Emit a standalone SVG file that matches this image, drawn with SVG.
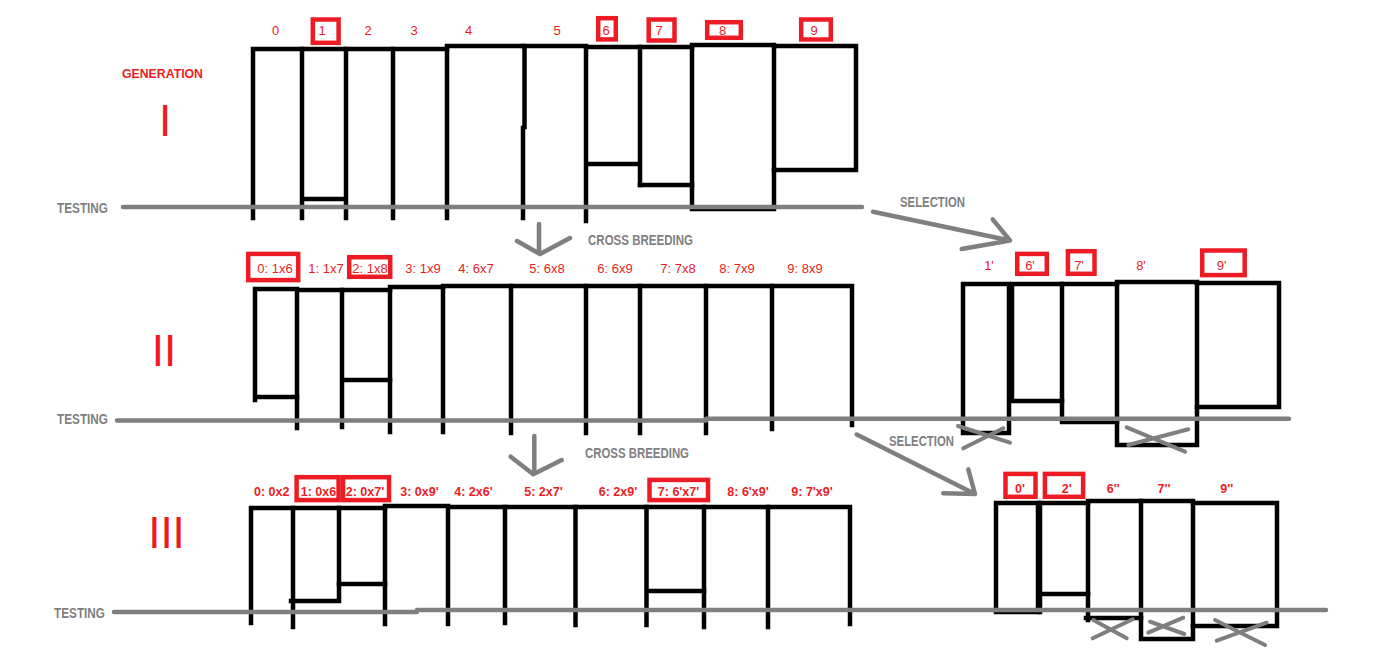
<svg xmlns="http://www.w3.org/2000/svg" width="1374" height="656" viewBox="0 0 1374 656">
<style>
.b{stroke:#000;stroke-width:4.5;fill:none;stroke-linecap:square;stroke-linejoin:miter}
.g{stroke:#7f7f7f;stroke-width:4.5;fill:none;stroke-linecap:round;stroke-linejoin:round}
.x{stroke:#7f7f7f;stroke-width:4;fill:none;stroke-linecap:round}
.rb{stroke:#ed1c24;stroke-width:4.5;fill:none}
.t{font-family:'Liberation Sans',Arial,sans-serif;font-size:13px;fill:#ed1c24;text-anchor:middle}
.tb{font-family:'Liberation Sans',Arial,sans-serif;font-size:12.5px;font-weight:bold;fill:#ed1c24;text-anchor:middle}
.gt{font-family:'Liberation Sans',Arial,sans-serif;font-size:14px;font-weight:bold;fill:#7f7f7f}
.rn{font-family:'Liberation Sans',Arial,sans-serif;font-size:44px;fill:#ed1c24;text-anchor:middle}
</style>
<rect width="1374" height="656" fill="#fff"/>

<!-- Generation labels -->
<g id="generation-label"><text class="gt" x="122" y="78" textLength="81" lengthAdjust="spacingAndGlyphs" style="fill:#ed1c24;font-size:13px">GENERATION</text></g>
<g id="gen-I"><text class="rn" x="165" y="136">I</text></g>
<g id="gen-II"><text class="rn" x="164" y="366">II</text></g>
<g id="gen-III"><text class="rn" x="166.5" y="548">III</text></g>

<!-- Generation I bars -->
<g id="g1-bar0"><path class="b" d="M253 49V218M253 49H302"/><text class="t" x="275.5" y="35.3">0</text></g>
<g id="g1-bar1"><path class="b" d="M302 49V218M346 49V218M302 199H346M302 49H346"/><rect class="rb" x="312.8" y="19.5" width="25.8" height="23.3"/><text class="t" x="322" y="35.3">1</text></g>
<g id="g1-bar2"><path class="b" d="M346 49H393"/><text class="t" x="368" y="35.3">2</text></g>
<g id="g1-bar3"><path class="b" d="M393 49V218M393 49H447"/><text class="t" x="414" y="35.3">3</text></g>
<g id="g1-bar4"><path class="b" d="M447 46V218M447 46H523"/><text class="t" x="468.6" y="35.3">4</text></g>
<g id="g1-bar5"><path class="b" d="M524.5 46V127M523 128V218M523 46H586"/><text class="t" x="557" y="35.3">5</text></g>
<g id="g1-bar6"><path class="b" d="M586 47V221M586 47H640M640 47V185M586 164H640"/><rect class="rb" x="598.2" y="18.2" width="17.6" height="21.2"/><text class="t" x="606" y="35.3">6</text></g>
<g id="g1-bar7"><path class="b" d="M640 47H692M640 185H692"/><rect class="rb" x="648.7" y="19.5" width="25.8" height="21"/><text class="t" x="659" y="35.3">7</text></g>
<g id="g1-bar8"><path class="b" d="M692 45V209M692 45H774M774 45V209M692 209H774"/><rect class="rb" x="707.2" y="22.2" width="33.6" height="15.6"/><text class="t" x="722.7" y="35.3">8</text></g>
<g id="g1-bar9"><path class="b" d="M774 46H856V170M774 170H856"/><rect class="rb" x="801.2" y="19.5" width="29.6" height="20"/><text class="t" x="814" y="35.3">9</text></g>

<!-- Generation II bars -->
<g id="g2-bar0"><path class="b" d="M255 400V289H297M255 397H297"/><rect class="rb" x="248.2" y="253.9" width="50" height="26.2"/><text class="t" x="275" y="273.3">0: 1x6</text></g>
<g id="g2-bar1"><path class="b" d="M297 290V428M297 290H342"/><text class="t" x="326" y="273.3">1: 1x7</text></g>
<g id="g2-bar2"><path class="b" d="M342 290V427M342 290H390M342 380H390"/><rect class="rb" x="349.2" y="257.2" width="41" height="19.6"/><text class="t" x="370" y="273.3">2: 1x8</text></g>
<g id="g2-bar3"><path class="b" d="M390 287V432M390 287H443"/><text class="t" x="423" y="273.3">3: 1x9</text></g>
<g id="g2-bar4"><path class="b" d="M443 286V432M443 286H511"/><text class="t" x="476" y="273.3">4: 6x7</text></g>
<g id="g2-bar5"><path class="b" d="M511 286V433M511 286H586"/><text class="t" x="547" y="273.3">5: 6x8</text></g>
<g id="g2-bar6"><path class="b" d="M586 286V433M586 286H640"/><text class="t" x="615" y="273.3">6: 6x9</text></g>
<g id="g2-bar7"><path class="b" d="M640 286V433M640 286H706"/><text class="t" x="678" y="273.3">7: 7x8</text></g>
<g id="g2-bar8"><path class="b" d="M706 286V433M706 286H772"/><text class="t" x="737" y="273.3">8: 7x9</text></g>
<g id="g2-bar9"><path class="b" d="M772 286V429M772 286H852V425"/><text class="t" x="805" y="273.3">9: 8x9</text></g>

<!-- Selected from generation I -->
<g id="s1-bar1"><path class="b" d="M963 284H1009V433H963Z"/><text class="t" x="989" y="270">1'</text></g>
<g id="s1-bar6"><path class="b" d="M1012 284H1062V401H1012Z"/><rect class="rb" x="1017.2" y="253.9" width="29.6" height="19.9"/><text class="t" x="1030" y="270">6'</text></g>
<g id="s1-bar7"><path class="b" d="M1062 284H1117M1062 401V422H1117"/><rect class="rb" x="1067.9" y="251.2" width="26.6" height="22.6"/><text class="t" x="1079" y="270">7'</text></g>
<g id="s1-bar8"><path class="b" d="M1117 282H1197V445H1117Z"/><text class="t" x="1141" y="270">8'</text></g>
<g id="s1-bar9"><path class="b" d="M1197 283H1279V407H1197"/><rect class="rb" x="1202.2" y="250.5" width="42.5" height="24.6"/><text class="t" x="1221.7" y="270">9'</text></g>

<!-- Generation III bars -->
<g id="g3-bar0"><path class="b" d="M251 508V623M251 508H293"/><text class="tb" x="271.7" y="496">0: 0x2</text></g>
<g id="g3-bar1"><path class="b" d="M293 508V627M293 508H339M339 508V601M291 601H339"/><rect class="rb" x="296.6" y="477.2" width="42" height="22.9"/><text class="tb" x="320" y="496">1: 0x6'</text></g>
<g id="g3-bar2"><path class="b" d="M339 508H385M339 584H385"/><rect class="rb" x="343" y="477.2" width="46" height="22.9"/><text class="tb" x="365" y="496">2: 0x7'</text></g>
<g id="g3-bar3"><path class="b" d="M385 506V624M385 506H448"/><text class="tb" x="419.4" y="496">3: 0x9'</text></g>
<g id="g3-bar4"><path class="b" d="M448 507V624M448 507H505"/><text class="tb" x="473.5" y="496">4: 2x6'</text></g>
<g id="g3-bar5"><path class="b" d="M505 507V623M505 507H575.5"/><text class="tb" x="543.4" y="496">5: 2x7'</text></g>
<g id="g3-bar6"><path class="b" d="M575.5 507V625M575.5 507H646.5"/><text class="tb" x="618" y="496">6: 2x9'</text></g>
<g id="g3-bar7"><path class="b" d="M646.5 507V625M646.5 507H704M646.5 591H704"/><rect class="rb" x="649.5" y="479.9" width="58.5" height="20.2"/><text class="tb" x="678.5" y="496">7: 6'x7'</text></g>
<g id="g3-bar8"><path class="b" d="M704 507V627M704 507H768"/><text class="tb" x="748" y="496">8: 6'x9'</text></g>
<g id="g3-bar9"><path class="b" d="M768 507V627M768 507H850V624"/><text class="tb" x="812" y="496">9: 7'x9'</text></g>

<!-- Selected from generation II -->
<g id="s2-bar0"><path class="b" d="M996 503H1038V612H996Z"/><rect class="rb" x="1005.5" y="473.9" width="30" height="22.9"/><text class="tb" x="1020" y="492.7">0'</text></g>
<g id="s2-bar2"><path class="b" d="M1040 503H1088M1040 503V612M1042 594H1088"/><rect class="rb" x="1044.9" y="473.9" width="38.2" height="22.9"/><text class="tb" x="1066.7" y="492.7">2'</text></g>
<g id="s2-bar6"><path class="b" d="M1088 501H1141M1088 501V620M1086 618H1141"/><text class="tb" x="1113.3" y="492.7">6''</text></g>
<g id="s2-bar7"><path class="b" d="M1141 501V639H1193V501H1141"/><text class="tb" x="1164" y="492.7">7''</text></g>
<g id="s2-bar9"><path class="b" d="M1193 503H1277V626H1193"/><text class="tb" x="1226.7" y="492.7">9''</text></g>

<!-- Testing lines -->
<g id="testing-1"><text class="gt" x="57" y="212.5" textLength="51" lengthAdjust="spacingAndGlyphs">TESTING</text><path class="g" d="M123 207H862"/></g>
<g id="testing-2"><text class="gt" x="57" y="424.3" textLength="51" lengthAdjust="spacingAndGlyphs">TESTING</text><path class="g" d="M117 420.5H706M706 418.8H1289"/></g>
<g id="testing-3"><text class="gt" x="54" y="618.3" textLength="51" lengthAdjust="spacingAndGlyphs">TESTING</text><path class="g" d="M114 612H417M417 610H1326"/></g>

<!-- Eliminated marks -->
<g id="crosses">
<path class="x" d="M958 426L1010 442.7M963.3 448.3L1003.3 428.3"/>
<path class="x" d="M1126.7 427.3L1185 451.7M1128.3 445L1188.3 429.3"/>
<path class="x" d="M1093.3 620L1126.7 638.3M1092.7 638.3L1132.7 619.3"/>
<path class="x" d="M1150 621.7L1184.3 634M1148.3 632.7L1183.3 617.7"/>
<path class="x" d="M1215 620L1265 645M1216.7 640.7L1266.7 622.7"/>
</g>

<!-- Connectors -->
<g id="connectors">
<g id="cross-breeding-1"><path class="g" d="M539 224V253M517 241L540 254L570 238"/><text class="gt" x="588" y="245.3" textLength="105" lengthAdjust="spacingAndGlyphs">CROSS BREEDING</text></g>
<g id="cross-breeding-2"><path class="g" d="M534.3 436V473M510.7 456.7L533.3 474.3L561.7 460"/><text class="gt" x="585" y="458.3" textLength="104" lengthAdjust="spacingAndGlyphs">CROSS BREEDING</text></g>
<g id="selection-1"><path class="g" d="M873 211.7L1010 240.5M992.7 219.3L1010 240.5L961.7 249"/><text class="gt" x="900" y="206.7" textLength="65" lengthAdjust="spacingAndGlyphs">SELECTION</text></g>
<g id="selection-2"><path class="g" d="M856.7 434.5L975 494M968.3 469.3L975 494L943.3 493.3"/><text class="gt" x="889" y="445.7" textLength="65" lengthAdjust="spacingAndGlyphs">SELECTION</text></g>
</g>
</svg>
